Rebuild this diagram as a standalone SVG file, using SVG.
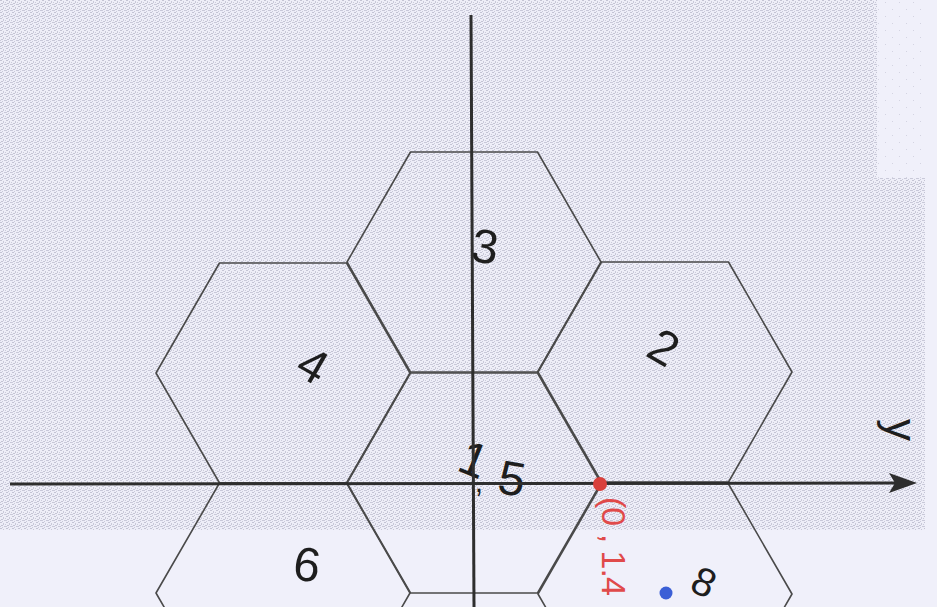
<svg xmlns="http://www.w3.org/2000/svg" width="937" height="607" viewBox="0 0 937 607">
<defs>
<pattern id="stip" width="6" height="6" patternUnits="userSpaceOnUse">
<rect width="6" height="6" fill="#eeeef8"/>
<rect x="0" y="0" width="2" height="1" fill="#c4c4d4"/>
<rect x="3" y="1" width="1" height="2" fill="#c8c8d8"/>
<rect x="1" y="3" width="2" height="1" fill="#c4c4d4"/>
<rect x="4" y="4" width="2" height="1" fill="#c8c8d8"/>
<rect x="2" y="5" width="1" height="1" fill="#cacada"/>
<rect x="5" y="2" width="1" height="1" fill="#cacada"/>
<rect x="0" y="4" width="1" height="1" fill="#cacada"/>
</pattern>
<pattern id="sparse" width="14" height="14" patternUnits="userSpaceOnUse">
<rect width="14" height="14" fill="#f0f0fa"/>
<rect x="3" y="2" width="1" height="1" fill="#d4d4e2"/>
<rect x="10" y="9" width="1" height="1" fill="#d4d4e2"/>
</pattern>
<style>
.hex{fill:none;stroke:#4a4a4a;stroke-width:1.6;stroke-linejoin:round}
.axis{stroke:#2e2e2e;stroke-width:3;fill:none}
.num{font-family:"Liberation Sans",Arial,sans-serif;font-size:48px;fill:#1e1e1e;text-anchor:middle}
.red{font-family:"Liberation Sans",Arial,sans-serif;font-size:34px;fill:#e04a4a}
</style>
</defs>
<rect width="937" height="607" fill="#f0f0fa"/>
<rect x="877" y="0" width="48" height="178" fill="url(#sparse)"/>
<polygon points="0,0 877,0 877,178 925,178 925,530 0,530" fill="url(#stip)"/>

<g id="hex3"><polygon class="hex" points="347,262 410.5,152 537.5,152 601,262 537.5,372 410.5,372"/>
<text class="num" transform="translate(485,246) rotate(8)" y="17">3</text></g>
<g id="hex4"><polygon class="hex" points="156,373 219.5,263 346.5,263 410,373 346.5,483 219.5,483"/>
<text class="num" transform="translate(313,365) rotate(30)" y="17">4</text></g>
<g id="hex2"><polygon class="hex" points="538,372 601.5,262 728.5,262 792,372 728.5,482 601.5,482"/>
<text class="num" transform="translate(664,347) rotate(30)" y="17">2</text></g>
<g id="hex5"><polygon class="hex" points="347,483 410.5,373 537.5,373 601,483 537.5,593 410.5,593"/>
<text class="num" transform="translate(474,459) rotate(22)" y="17">1</text>
<text class="num" style="font-size:30px" x="479" y="492">,</text>
<text class="num" transform="translate(512,478) rotate(10)" y="17">5</text></g>
<g id="hex6"><polygon class="hex" points="156,593 219.5,483 346.5,483 410,593 346.5,703 219.5,703"/>
<text class="num" transform="translate(307,564) rotate(8)" y="17">6</text></g>
<g id="hex8"><polygon class="hex" points="538,594 601.5,484 728.5,484 792,594 728.5,704 601.5,704"/>
<text class="num" style="font-size:40px" transform="translate(704,582) rotate(25)" y="14">8</text></g>

<g id="axes">
<line class="axis" x1="471" y1="15" x2="474" y2="607"/>
<line class="axis" x1="10" y1="484" x2="896" y2="483"/>
<polygon points="917,483 889,473 895,483 889,493" fill="#2e2e2e"/>
<text class="num" style="font-size:44px" transform="translate(886,430) rotate(90)" text-anchor="start" x="0" y="0">y</text>
</g>

<g id="points">
<circle cx="600" cy="484" r="7" fill="#d9403c"/>
<circle cx="666" cy="593" r="6.5" fill="#3b5fd6"/>
<text class="red" transform="translate(602,497) rotate(90)" letter-spacing="-1">(0 , 1.4</text>
</g>
</svg>
